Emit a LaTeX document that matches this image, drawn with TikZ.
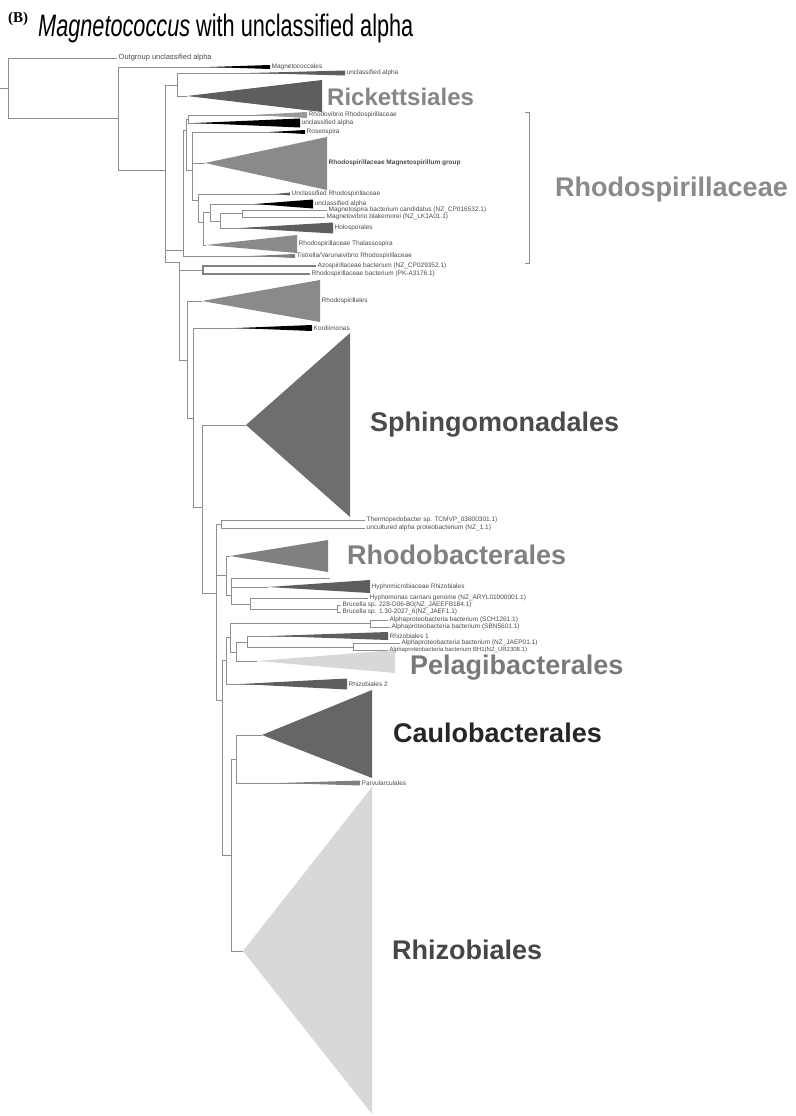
\documentclass[tikz,border=0pt]{standalone}
\usepackage{fontspec}
\setmainfont{Liberation Sans}
\newfontfamily\titlefont[FakeStretch=0.7]{Liberation Sans}
\newfontfamily\panelfont{Liberation Serif}
\usetikzlibrary{calc}

\definecolor{branchgray}{HTML}{8E8E8E}
\definecolor{leafgray}{HTML}{4A4A4A}
\definecolor{dark}{HTML}{5E5E5E}
\definecolor{mid}{HTML}{8A8A8A}
\definecolor{pale}{HTML}{D8D8D8}

\tikzset{
    branch/.style={draw=branchgray, line width=0.7pt},
    leaf/.style={anchor=west, inner sep=1.5pt, text=leafgray, font=\fontsize{6.5}{7}\selectfont},
    order/.style={anchor=west, inner sep=0pt, font=\fontsize{27}{30}\selectfont\bfseries}
}

% collapsed clade: apex, base x, top y, bottom y, colour
\newcommand{\collapsed}[5]{\fill[#5] (#1) -- (#2,#3) -- (#2,#4) -- cycle;}
% thin wedge ending in a leaf tip: tip, length, half height, colour
\newcommand{\leafwedge}[4]{\fill[#4] ($(#1)+(-#2,0)$) -- ($(#1)+(0,#3)$) -- ($(#1)+(0,-#3)$) -- cycle;}

\begin{document}
\begin{tikzpicture}[x=1pt, y=-1pt]

\useasboundingbox (0,0) rectangle (795,1116);

% Titel
\node[anchor=base west, inner sep=0pt] (panel) at (8,23) {\panelfont\bfseries\fontsize{15}{16}\selectfont (B)};
\node[anchor=base west, inner sep=0pt] (title) at (38,37) {\titlefont\fontsize{31}{34}\selectfont\textit{Magnetococcus} with unclassified alpha};

% innere Knoten
\coordinate (stub) at (0,88);
\coordinate (r0) at (8,88);
\coordinate (n1) at (118,118);
\coordinate (n2) at (165,170);
\coordinate (n3) at (177,85);
\coordinate (n4) at (183,250);
\coordinate (a0) at (186,130);
\coordinate (a1) at (188,119);
\coordinate (a2) at (192,170);
\coordinate (b5) at (198,200);
\coordinate (b4) at (203,222);
\coordinate (b3) at (210,212);
\coordinate (b2) at (220,221);
\coordinate (b1) at (242,213);
\coordinate (d1) at (179,262);
\coordinate (c1) at (203,270);
\coordinate (d2) at (187,360);
\coordinate (d3) at (193,418);
\coordinate (d4) at (202,507);
\coordinate (e1) at (216,593);
\coordinate (t1) at (221,524);
\coordinate (r1) at (226,575);
\coordinate (r2) at (231,595);
\coordinate (h2) at (250,604);
\coordinate (h1) at (337,609);
\coordinate (e2) at (222,700);
\coordinate (p3) at (226,660);
\coordinate (p2) at (230,637);
\coordinate (aa) at (370,623);
\coordinate (p1) at (236,652);
\coordinate (p0) at (247,642);
\coordinate (ab) at (353,647);
\coordinate (cr) at (231,855);
\coordinate (cp) at (236,759);

% Blattspitzen und Spitzen der Dreiecke
\coordinate (out) at (117,58);
\coordinate (mag) at (270,67);
\coordinate (ua1) at (345,73);
\coordinate (rk) at (187,96);
\coordinate (rv) at (307,115);
\coordinate (ua2) at (300,123);
\coordinate (rs) at (305,132);
\coordinate (ms) at (205,163);
\coordinate (ur) at (290,194);
\coordinate (ua3) at (313,204);
\coordinate (msb) at (327,210);
\coordinate (meso) at (325,217);
\coordinate (holo) at (333,228);
\coordinate (rt) at (206,245);
\coordinate (tel) at (295,256);
\coordinate (azo) at (316,266);
\coordinate (rbact) at (310,274);
\coordinate (rsl) at (202,301);
\coordinate (kord) at (312,328);
\coordinate (sph) at (246,425);
\coordinate (thermo) at (365,520);
\coordinate (uncl) at (365,528);
\coordinate (rbl) at (230,556);
\coordinate (blank) at (330,578);
\coordinate (hyph) at (268,587);
\coordinate (hmon) at (368,598);
\coordinate (bru1) at (341,605);
\coordinate (bru2) at (341,612);
\coordinate (al1) at (388,620);
\coordinate (al2) at (390,627);
\coordinate (rz1) at (388,636);
\coordinate (al3) at (400,643);
\coordinate (al4) at (388,650);
\coordinate (pel) at (257,661);
\coordinate (rz2) at (347,684);
\coordinate (cau) at (262,735);
\coordinate (parv) at (360,783);
\coordinate (rhz) at (243,951);

% Aeste
\draw[branch] (stub) -- (r0);
\draw[branch] (r0) |- (out) (r0) |- (n1);
\draw[branch] (n1) |- (mag) (n1) |- (n2);
\draw[branch] (n2) |- (n3) (n2) |- (n4) (n2) |- (d1);
\draw[branch] (n3) |- (ua1) (n3) |- (rk);
\draw[branch] (n4) |- (a0) (n4) |- (tel);
\draw[branch] (a0) |- (a1) (a0) |- (a2);
\draw[branch] (a1) |- (rv) (a1) |- (ua2);
\draw[branch] (a2) |- (rs) (a2) |- (ms) (a2) |- (b5);
\draw[branch] (b5) |- (ur) (b5) |- (b4);
\draw[branch] (b4) |- (b3) (b4) |- (rt);
\draw[branch] (b3) |- (ua3) (b3) |- (b2);
\draw[branch] (b2) |- (b1) (b2) |- (holo);
\draw[branch] (b1) |- (msb) (b1) |- (meso);
\draw[branch] (d1) |- (c1) (d1) |- (d2);
\draw[branch, line width=1.4pt, draw=gray] (c1) |- (azo) (c1) |- (rbact);
\draw[branch] (d2) |- (rsl) (d2) |- (d3);
\draw[branch] (d3) |- (kord) (d3) |- (d4);
\draw[branch] (d4) |- (sph) (d4) |- (e1);
\draw[branch] (e1) |- (t1) (e1) |- (r1) (e1) |- (e2);
\draw[branch] (t1) |- (thermo) (t1) |- (uncl);
\draw[branch] (r1) |- (rbl) (r1) |- (r2);
\draw[branch] (r2) |- (blank) (r2) |- (hyph) (r2) |- (h2);
\draw[branch] (h2) |- (hmon) (h2) |- (h1);
\draw[branch] (h1) |- (bru1) (h1) |- (bru2);
\draw[branch] (e2) |- (p3) (e2) |- (cr);
\draw[branch] (p3) |- (p2) (p3) |- (rz2);
\draw[branch] (p2) |- (aa) (p2) |- (p1);
\draw[branch] (aa) |- (al1) (aa) |- (al2);
\draw[branch] (p1) |- (p0) (p1) |- (pel);
\draw[branch] (p0) |- (rz1) (p0) |- (ab);
\draw[branch] (ab) |- (al3) (ab) |- (al4);
\draw[branch] (cr) |- (cp) (cr) |- (rhz);
\draw[branch] (cp) |- (cau) (cp) |- (parv);

% zusammengefasste Gruppen
\collapsed{rk}{322}{80}{112}{dark}
\collapsed{ms}{327}{137}{190}{mid}
\collapsed{rt}{297}{235}{253}{mid}
\collapsed{rsl}{320}{280}{322}{mid}
\collapsed{sph}{350}{333}{517}{dark!90!white}
\collapsed{rbl}{328}{540}{572}{gray}
\collapsed{hyph}{370}{580}{593}{dark}
\collapsed{pel}{395}{650}{673}{pale}
\collapsed{cau}{372}{690}{778}{dark!95!white}
\collapsed{rhz}{372}{787}{1114}{pale}

% Keile an den Blaettern
\leafwedge{mag}{60}{2}{black}
\leafwedge{ua1}{95}{2.5}{dark}
\leafwedge{rv}{55}{3}{gray!80}
\leafwedge{ua2}{105}{4.5}{black}
\leafwedge{rs}{35}{2}{black}
\leafwedge{ur}{15}{1.5}{dark}
\leafwedge{ua3}{58}{4.5}{black}
\leafwedge{holo}{93}{5.5}{dark}
\leafwedge{tel}{45}{2}{gray}
\leafwedge{kord}{75}{3}{black}
\leafwedge{rz1}{118}{4}{dark}
\leafwedge{rz2}{107}{5.5}{dark}
\leafwedge{parv}{80}{2.5}{gray}

% Blattnamen
\node[leaf, font=\fontsize{7.5}{8}\selectfont] (tOut) at (out) {Outgroup unclassified alpha};
\node[leaf] (tMag) at (mag) {Magnetococcales};
\node[leaf] (tUa1) at (ua1) {unclassified alpha};
\node[leaf] (tRv) at (rv) {Rhodovibrio Rhodospirillaceae};
\node[leaf] (tUa2) at (ua2) {unclassified alpha};
\node[leaf] (tRs) at (rs) {Roseospira};
\node[leaf, font=\fontsize{6.5}{7}\selectfont\bfseries] (tMs) at (327,163) {Rhodospirillaceae Magnetospirillum group};
\node[leaf] (tUr) at (ur) {Unclassified Rhodospirillaceae};
\node[leaf] (tUa3) at (ua3) {unclassified alpha};
\node[leaf] (tMsb) at (msb) {Magnetospira bacterium candidatus (NZ\_CP016532.1)};
\node[leaf] (tMeso) at (meso) {Magnetovibrio blakemorei (NZ\_LK1A01.1)};
\node[leaf] (tHolo) at (holo) {Holosporales};
\node[leaf] (tRt) at (297,244) {Rhodospirillaceae Thalassospira};
\node[leaf] (tTel) at (tel) {Tistrella/Varunaivibrio Rhodospirillaceae};
\node[leaf] (tAzo) at (azo) {Azospirillaceae bacterium (NZ\_CP029352.1)};
\node[leaf] (tRbact) at (rbact) {Rhodospirillaceae bacterium (PK-A3176.1)};
\node[leaf] (tRsl) at (320,301) {Rhodospirillales};
\node[leaf] (tKord) at (kord) {Kordiimonas};
\node[leaf] (tThermo) at (thermo) {Thermopedobacter sp. TCMVP\_03600301.1)};
\node[leaf] (tUncl) at (uncl) {uncultured alpha proteobacterium (NZ\_1.1)};
\node[leaf] (tHyph) at (370,587) {Hyphomicrobiaceae Rhizobiales};
\node[leaf] (tHmon) at (hmon) {Hyphomonas carriani genome (NZ\_ARYL01000001.1)};
\node[leaf] (tBru1) at (bru1) {Brucella sp. 228-D06-B0(NZ\_JAEEFB184.1)};
\node[leaf] (tBru2) at (bru2) {Brucella sp. 1.30-2027\_6(NZ\_JAEF1.1)};
\node[leaf] (tAl1) at (al1) {Alphaproteobacteria bacterium (SCH1261.1)};
\node[leaf] (tAl2) at (al2) {Alphaproteobacteria bacterium (SBN5601.1)};
\node[leaf] (tRz1) at (rz1) {Rhizobiales 1};
\node[leaf] (tAl3) at (al3) {Alphaproteobacteria bacterium (NZ\_JAEP01.1)};
\node[leaf, font=\fontsize{6}{7}\selectfont] (tAl4) at (al4) {Alphaproteobacteria bacterium BH1(NZ\_UR2308.1)};
\node[leaf] (tRz2) at (rz2) {Rhizobiales 2};
\node[leaf] (tParv) at (parv) {Parvularculales};

% Ordnungen
\node[order, text=gray!95!white, font=\fontsize{24}{27}\selectfont\bfseries] (Rick) at (327,97) {Rickettsiales};
\node[order, text=mid] (Rhodospir) at (555,190) {Rhodospirillaceae};
\node[order, text=dark!80!black] (Sphingo) at (370,425) {Sphingomonadales};
\node[order, text=gray] (Rhodobac) at (347,555) {Rhodobacterales};
\node[order, text=gray!95!black] (Pelagi) at (410,668) {Pelagibacterales};
\node[order, text=black!85] (Caulo) at (393,733) {Caulobacterales};
\node[order, text=dark!75!black] (Rhizo) at (392,950) {Rhizobiales};

% Klammer Rhodospirillaceae
\coordinate (brT) at (525,112);
\coordinate (brB) at (525,263);
\draw[branch, line width=0.8pt] (brT) -- ++(4,0) |- (brB);

\end{tikzpicture}
\end{document}
